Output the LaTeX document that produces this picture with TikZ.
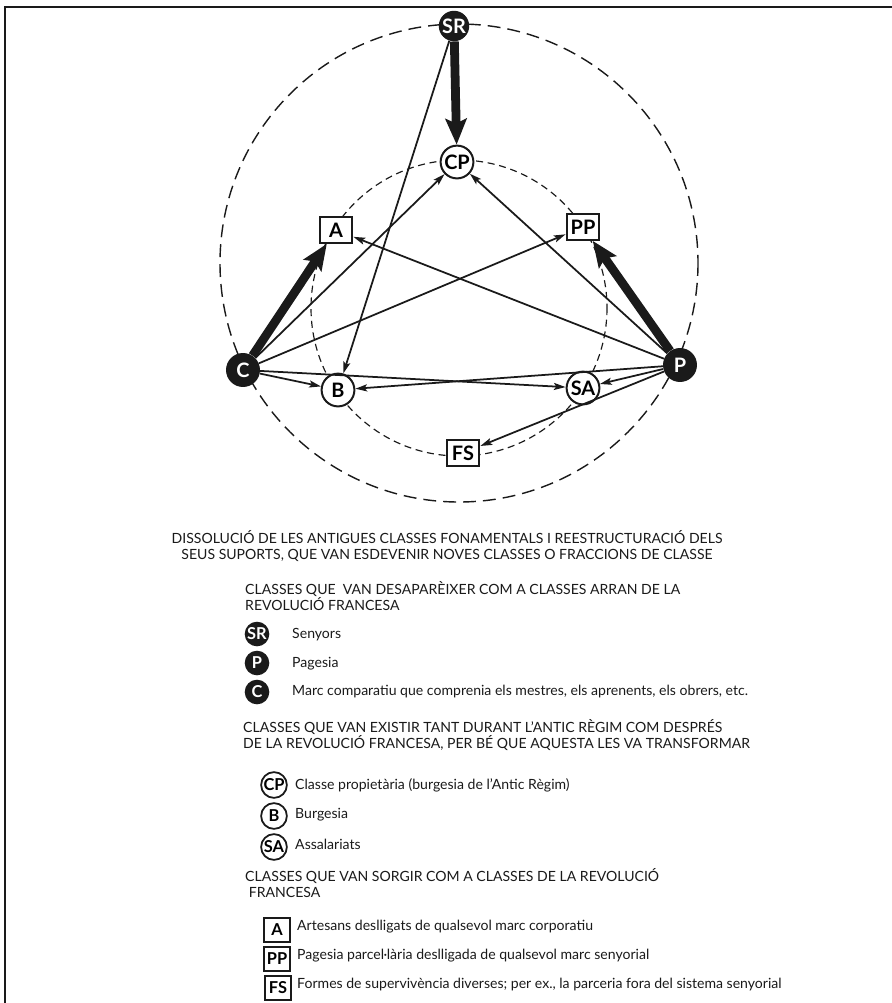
\documentclass[tikz,border=0pt]{standalone}
\usepackage{fontspec}
\setmainfont{Lato}
\usetikzlibrary{arrows.meta,positioning}
\definecolor{ink}{HTML}{1A1A1A}
\newcommand{\labfont}{\fontsize{17}{17}\selectfont\bfseries}
\newcommand{\legfont}{\fontsize{14}{14}\selectfont\bfseries}
\newcommand{\txtfont}{\fontsize{12}{13.7}\selectfont}
\tikzset{blk/.style={circle,fill=ink,text=white,minimum size=29pt,inner sep=0pt,font=\labfont},
  ring/.style={circle,draw=ink,fill=white,line width=1.7pt,minimum size=28pt,inner sep=0pt,font=\labfont},
  sq/.style={draw=ink,fill=white,line width=1.7pt,minimum width=28pt,minimum height=22pt,inner sep=1pt,font=\labfont},
  lblk/.style={blk,minimum size=21pt,font=\legfont},
  lring/.style={ring,minimum size=22pt,line width=1.5pt,font=\legfont},
  lsq/.style={sq,minimum width=22pt,minimum height=20pt,line width=1.5pt,font=\legfont},
  link/.style={draw=ink,line width=1.5pt,-{Stealth[length=10pt,width=6pt,inset=2pt]}},
  heavy/.style={draw=ink,line width=7.5pt,-{Stealth[length=22pt,width=18pt,inset=4pt]}},
  txt/.style={anchor=west,align=left,font=\txtfont,text=ink,inner sep=0pt}}

\begin{document}
\begin{tikzpicture}[x=0.03cm,y=-0.03cm]
\useasboundingbox (0,0) rectangle (892,1003);
\draw[ink,line width=1.2pt] (5,1003)--(5,7)--(892,7);
\draw[ink,line width=1.2pt,dash pattern=on 11pt off 6pt] (459,263) circle (239);
\draw[ink,line width=1pt,dash pattern=on 6pt off 4pt] (459,308) circle (148);
\node[blk,minimum size=26pt] (SR) at (454,26) {SR};
\node[blk] (C) at (243,370) {C};
\node[blk] (P) at (680,365) {P};
\node[ring] (CP) at (457,162) {CP};
\node[ring] (B) at (338,390) {B};
\node[ring] (SA) at (583,388) {SA};
\node[sq] (A) at (336,230) {A};
\node[sq] (PP) at (583,227) {PP};
\node[sq] (FS) at (463,453) {FS};
\draw[heavy] (SR)--(CP);
\draw[heavy] (C)--(A);
\draw[heavy] (P)--(PP);
\draw[link] (SR)--(B);
\draw[link] (C)--(CP);
\draw[link] (C)--(PP);
\draw[link] (C)--(B);
\draw[link] (C)--(SA);
\draw[link] (P)--(CP);
\draw[link] (P)--(A);
\draw[link] (P)--(B);
\draw[link] (P)--(SA);
\draw[link] (P)--(FS);
\node[font=\txtfont,align=center,text=ink] (title) at (447,546)
  {DISSOLUCIÓ DE LES ANTIGUES CLASSES FONAMENTALS I REESTRUCTURACIÓ DELS\\
   SEUS SUPORTS, QUE VAN ESDEVENIR NOVES CLASSES O FRACCIONS DE CLASSE};
\node[txt] (h1) at (245,596) {CLASSES QUE \ VAN DESAPARÈIXER COM A CLASSES ARRAN DE LA\\REVOLUCIÓ FRANCESA};
\node[lblk] (lSR) at (257,634) {SR};
\node[txt] at (292,635) {Senyors};
\node[lblk] (lP) at (257,663) {P};
\node[txt] at (292,664) {Pagesia};
\node[lblk] (lC) at (257,692) {C};
\node[txt] at (292,692) {Marc comparatiu que comprenia els mestres, els aprenents, els obrers, etc.};
\node[txt] (h2) at (243,735) {CLASSES QUE VAN EXISTIR TANT DURANT L’ANTIC RÈGIM COM DESPRÉS\\DE LA REVOLUCIÓ FRANCESA, PER BÉ QUE AQUESTA LES VA TRANSFORMAR};
\node[lring] (lCP) at (274,785) {CP};
\node[txt] at (295,785) {Classe propietària (burgesia de l’Antic Règim)};
\node[lring] (lB) at (274,816) {B};
\node[txt] at (295,815) {Burgesia};
\node[lring] (lSA) at (274,847) {SA};
\node[txt] at (295,844) {Assalariats};
\node[txt] (h3) at (245,883) {CLASSES QUE VAN SORGIR COM A CLASSES DE LA REVOLUCIÓ\\\ FRANCESA};
\node[lsq] (lA) at (277,930) {A};
\node[txt] at (297,927) {Artesans deslligats de qualsevol marc corporatiu};
\node[lsq] (lPP) at (277,959) {PP};
\node[txt] at (297,956) {Pagesia parcel·lària deslligada de qualsevol marc senyorial};
\node[lsq] (lFS) at (278,988) {FS};
\node[txt] at (297,985) {Formes de supervivència diverses; per ex., la parceria fora del sistema senyorial};
\end{tikzpicture}
\end{document}
